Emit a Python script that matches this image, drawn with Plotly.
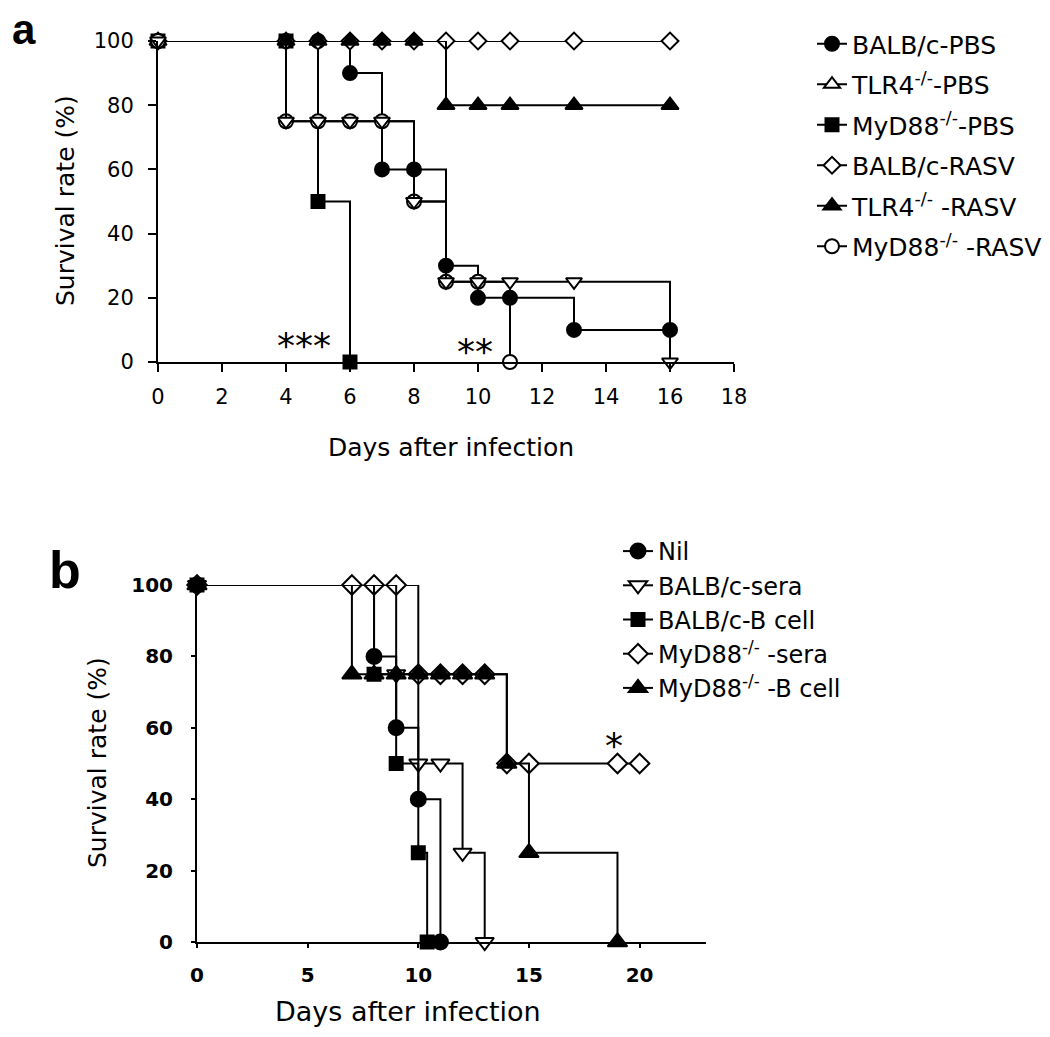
import plotly.graph_objects as go

# ---------------- Panel a data ----------------
a_days_balbc_pbs = [0, 4, 5, 6, 7, 8, 9, 10, 11, 13, 16]
a_surv_balbc_pbs = [100, 100, 100, 90, 60, 60, 30, 20, 20, 10, 10]

a_days_tlr4_pbs = [0, 4, 5, 6, 7, 8, 9, 10, 11, 13, 16]
a_surv_tlr4_pbs = [100, 75, 75, 75, 75, 50, 25, 25, 25, 25, 0]

a_days_myd88_pbs = [0, 4, 5, 6]
a_surv_myd88_pbs = [100, 100, 50, 0]

a_days_balbc_rasv = [0, 4, 5, 6, 7, 8, 9, 10, 11, 13, 16]
a_surv_balbc_rasv = [100, 100, 100, 100, 100, 100, 100, 100, 100, 100, 100]

a_days_tlr4_rasv = [0, 4, 5, 6, 7, 8, 9, 10, 11, 13, 16]
a_surv_tlr4_rasv = [100, 100, 100, 100, 100, 100, 80, 80, 80, 80, 80]

a_days_myd88_rasv = [0, 4, 5, 6, 7, 8, 9, 10, 11]
a_surv_myd88_rasv = [100, 75, 75, 75, 75, 50, 25, 25, 0]

a_x_ticks = [0, 2, 4, 6, 8, 10, 12, 14, 16, 18]
a_y_ticks = [0, 20, 40, 60, 80, 100]

a_sig_labels = ["***", "**"]
a_sig_x = [4.55, 9.9]
a_sig_y = [5.0, 3.4]

# ---------------- Panel b data ----------------
b_days_nil = [0, 8, 9, 10, 11]
b_surv_nil = [100, 80, 60, 40, 0]

b_days_balbc_sera = [0, 9, 10, 11, 12, 13]
b_surv_balbc_sera = [100, 75, 50, 50, 25, 0]

b_days_balbc_bcell = [0, 8, 9, 10, 10.4]
b_surv_balbc_bcell = [100, 75, 50, 25, 0]

b_days_myd88_sera = [0, 7, 8, 9, 10, 11, 12, 13, 14, 15, 19, 20]
b_surv_myd88_sera = [100, 100, 100, 100, 75, 75, 75, 75, 50, 50, 50, 50]

b_days_myd88_bcell = [0, 7, 8, 9, 10, 11, 12, 13, 14, 15, 19]
b_surv_myd88_bcell = [100, 75, 75, 75, 75, 75, 75, 75, 50, 25, 0]

b_x_ticks = [0, 5, 10, 15, 20]
b_y_ticks = [0, 20, 40, 60, 80, 100]

b_sig_labels = ["*"]
b_sig_x = [18.85]
b_sig_y = [55.0]

FONT = "DejaVu Sans"
BLACK = "black"
W, H = 1050, 1037
PAGE_OFFSET = 8  # default page body margin in the browser

fig = go.Figure()


def add_series(x, y, name, symbol, fill, size, xaxis, yaxis, legend, rank, showlegend=True):
    fig.add_trace(go.Scatter(
        x=x, y=y, name=name, mode="lines+markers",
        line=dict(color=BLACK, width=2, shape="hv"),
        marker=dict(symbol=symbol, size=size, color=fill,
                    line=dict(color=BLACK, width=2)),
        xaxis=xaxis, yaxis=yaxis, legend=legend, legendrank=rank,
        legendgroup=legend + name, showlegend=showlegend,
        cliponaxis=False, hoverinfo="x+y+name",
    ))


def add_legend_only(name, symbol, fill, size, legend, rank):
    fig.add_trace(go.Scatter(
        x=[None], y=[None], name=name, mode="lines+markers",
        line=dict(color=BLACK, width=2),
        marker=dict(symbol=symbol, size=size, color=fill,
                    line=dict(color=BLACK, width=2)),
        xaxis="x", yaxis="y", legend=legend, legendrank=rank,
        legendgroup=legend + name, showlegend=True,
    ))


# Panel a (draw order chosen so stacked markers look like the original)
add_series(a_days_balbc_pbs, a_surv_balbc_pbs, "BALB/c-PBS", "circle", BLACK, 14, "x", "y", "legend", 1)
add_series(a_days_myd88_pbs, a_surv_myd88_pbs, "MyD88<sup>-/-</sup>-PBS", "square", BLACK, 13, "x", "y", "legend", 3)
add_series(a_days_balbc_rasv, a_surv_balbc_rasv, "BALB/c-RASV", "diamond", "white", 13, "x", "y", "legend", 4)
add_series(a_days_tlr4_rasv, a_surv_tlr4_rasv, "TLR4<sup>-/-</sup> -RASV", "triangle-up", BLACK, 15, "x", "y", "legend", 5)
add_series(a_days_myd88_rasv, a_surv_myd88_rasv, "MyD88<sup>-/-</sup> -RASV", "circle", "white", 14, "x", "y", "legend", 6)
add_series(a_days_tlr4_pbs, a_surv_tlr4_pbs, "TLR4<sup>-/-</sup>-PBS", "triangle-down", "white", 14, "x", "y", "legend", 2,
           showlegend=False)
add_legend_only("TLR4<sup>-/-</sup>-PBS", "triangle-up", "white", 14, "legend", 2)

# Panel b
add_series(b_days_myd88_sera, b_surv_myd88_sera, "MyD88<sup>-/-</sup> -sera", "diamond", "white", 15, "x2", "y2", "legend2", 4)
add_series(b_days_balbc_sera, b_surv_balbc_sera, "BALB/c-sera", "triangle-down", "white", 16, "x2", "y2", "legend2", 2)
add_series(b_days_nil, b_surv_nil, "Nil", "circle", BLACK, 15, "x2", "y2", "legend2", 1)
add_series(b_days_balbc_bcell, b_surv_balbc_bcell, "BALB/c-B cell", "square", BLACK, 13, "x2", "y2", "legend2", 3)
add_series(b_days_myd88_bcell, b_surv_myd88_bcell, "MyD88<sup>-/-</sup> -B cell", "triangle-up", BLACK, 17, "x2", "y2", "legend2", 5)


def px_x(p):
    return (p - PAGE_OFFSET) / W


def px_y(p):
    return 1 - (p - PAGE_OFFSET) / H


axis_common = dict(showline=True, linecolor=BLACK, linewidth=2, showgrid=False,
                   zeroline=False, ticks="outside", tickcolor=BLACK, tickwidth=2,
                   automargin=False)


def paper_text(text, xp, yp, size, angle=0, family=FONT):
    return dict(text=text, x=px_x(xp), y=px_y(yp), xref="paper", yref="paper",
                xanchor="center", yanchor="middle", showarrow=False, textangle=angle,
                font=dict(family=family, size=size, color=BLACK))


annotations = []
# significance marks
for t, x, y in zip(a_sig_labels, a_sig_x, a_sig_y):
    annotations.append(dict(text=t, x=x, y=y, xref="x", yref="y", showarrow=False,
                            xanchor="center", yanchor="middle",
                            font=dict(family=FONT, size=36, color=BLACK)))
for t, x, y in zip(b_sig_labels, b_sig_x, b_sig_y):
    annotations.append(dict(text=t, x=x, y=y, xref="x2", yref="y2", showarrow=False,
                            xanchor="center", yanchor="middle",
                            font=dict(family=FONT, size=36, color=BLACK)))

# axis titles and panel letters
annotations += [
    paper_text("Days after infection", 451, 448, 25),
    paper_text("Survival rate (%)", 65, 201, 25, angle=-90),
    paper_text("Days after infection", 408, 1011, 27),
    paper_text("Survival rate (%)", 97, 763, 25, angle=-90),
    paper_text("<b>a</b>", 24, 30, 42, family="Liberation Sans"),
    paper_text("<b>b</b>", 65, 570, 52, family="Liberation Sans"),
]

fig.update_layout(
    template="none",
    width=W, height=H,
    margin=dict(l=0, r=0, t=0, b=0, pad=0, autoexpand=False),
    paper_bgcolor="white", plot_bgcolor="white",
    font=dict(family=FONT, color=BLACK),
    xaxis=dict(domain=[px_x(158), px_x(734)], range=[0, 18], tickvals=a_x_ticks,
               ticklen=8, tickfont=dict(family=FONT, size=21, color=BLACK),
               ticklabelstandoff=7, anchor="y", **axis_common),
    yaxis=dict(domain=[px_y(362), px_y(41)], range=[0, 100], tickvals=a_y_ticks,
               ticklen=8, tickfont=dict(family=FONT, size=21, color=BLACK),
               ticklabelstandoff=10, anchor="x", **axis_common),
    xaxis2=dict(domain=[px_x(197), px_x(706)], range=[0, 23], tickvals=b_x_ticks,
                ticklen=4, tickfont=dict(family=FONT, size=20, color=BLACK, weight="bold"),
                ticklabelstandoff=10, anchor="y2", **axis_common),
    yaxis2=dict(domain=[px_y(942), px_y(585)], range=[0, 100], tickvals=b_y_ticks,
                ticklen=4, tickfont=dict(family=FONT, size=20, color=BLACK, weight="bold"),
                ticklabelstandoff=14, anchor="x2", **axis_common),
    legend=dict(x=px_x(812), y=px_y(21), xanchor="left", yanchor="top",
                font=dict(family=FONT, size=25, color=BLACK), tracegroupgap=5,
                bgcolor="rgba(0,0,0,0)", itemsizing="trace"),
    legend2=dict(x=px_x(618), y=px_y(529), xanchor="left", yanchor="top",
                 font=dict(family=FONT, size=24, color=BLACK), tracegroupgap=0,
                 bgcolor="rgba(0,0,0,0)", itemsizing="trace"),
    annotations=annotations,
    showlegend=True,
)

fig.write_html("out.html")
